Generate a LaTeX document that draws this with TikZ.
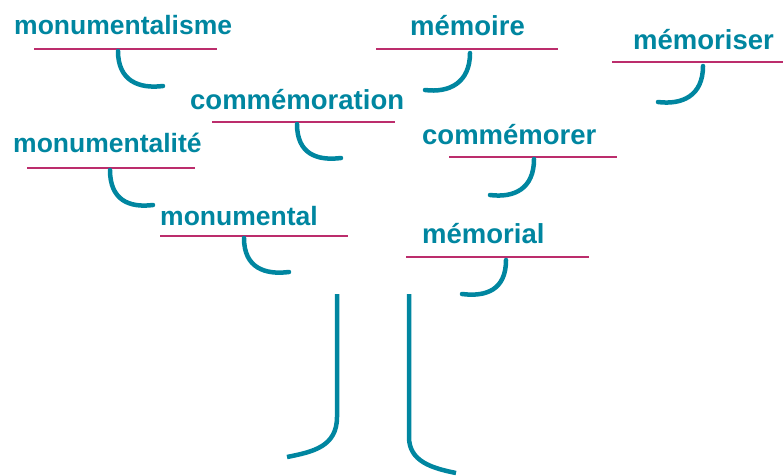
\documentclass[tikz,border=0pt]{standalone}
\usepackage{fontspec}
\setmainfont{Liberation Sans}
\definecolor{wordteal}{RGB}{0,134,160}
\definecolor{rulemag}{RGB}{188,45,108}
\tikzset{
  word/.style={anchor=base west, inner sep=0pt, text=wordteal,
               font=\fontsize{26.5}{30}\selectfont\bfseries},
  bigword/.style={word, font=\fontsize{27.5}{31}\selectfont\bfseries},
  rule/.style={draw=rulemag, line width=2.2pt},
  curl/.style={draw=wordteal, line width=4.5pt, line cap=round},
  trunk/.style={draw=wordteal, line width=4.5pt}
}
\begin{document}
\begin{tikzpicture}[x=1pt,y=-1pt]
\useasboundingbox (0,0) rectangle (783,475);

% words
\node[word]    (w1) at (14,34)  {monumentalisme};
\node[bigword] (w2) at (410,35) {mémoire};
\node[bigword] (w3) at (633,49) {mémoriser};
\node[bigword] (w4) at (190,109) {commémoration};
\node[word]    (w5) at (13,152) {monumentalité};
\node[bigword] (w6) at (422,144) {commémorer};
\node[word]    (w7) at (160,225) {monumental};
\node[bigword] (w8) at (422,243) {mémorial};

% underlines
\coordinate (r1a) at (34,49);   \coordinate (r1b) at (217,49);
\coordinate (r2a) at (376,49);  \coordinate (r2b) at (558,49);
\coordinate (r3a) at (612,62);  \coordinate (r3b) at (783,62);
\coordinate (r4a) at (212,122); \coordinate (r4b) at (395,122);
\coordinate (r5a) at (27,168);  \coordinate (r5b) at (195,168);
\coordinate (r6a) at (449,157); \coordinate (r6b) at (617,157);
\coordinate (r7a) at (160,236); \coordinate (r7b) at (348,236);
\coordinate (r8a) at (406,257); \coordinate (r8b) at (589,257);
\foreach \i in {1,...,8} \path[rule] (r\i a) -- (r\i b);

% curls hanging from the underlines
\coordinate (c1s) at (118,51);  \coordinate (c1e) at (163,86);
\coordinate (c2s) at (470,53);  \coordinate (c2e) at (425,90);
\coordinate (c3s) at (703,66);  \coordinate (c3e) at (658,102);
\coordinate (c4s) at (297,124); \coordinate (c4e) at (341,158);
\coordinate (c5s) at (110,170); \coordinate (c5e) at (153,205);
\coordinate (c6s) at (534,159); \coordinate (c6e) at (490,195);
\coordinate (c7s) at (244,238); \coordinate (c7e) at (289,272);
\coordinate (c8s) at (506,260); \coordinate (c8e) at (462,294);

\foreach \i in {1,4,5,7}
  \path[curl] (c\i s) .. controls +(0,30) and +(-24,3) .. (c\i e);
\foreach \i in {2,3,6,8}
  \path[curl] (c\i s) .. controls +(0,30) and +(24,3) .. (c\i e);

% trunk
\coordinate (t1) at (337,294); \coordinate (t2) at (337,417); \coordinate (t3) at (287,457);
\coordinate (u1) at (409,294); \coordinate (u2) at (409,437); \coordinate (u3) at (456,473);
\path[trunk] (t1) -- (t2) .. controls +(0,30) and +(25,-5) .. (t3);
\path[trunk] (u1) -- (u2) .. controls +(0,24) and +(-25,-5) .. (u3);
\end{tikzpicture}
\end{document}
